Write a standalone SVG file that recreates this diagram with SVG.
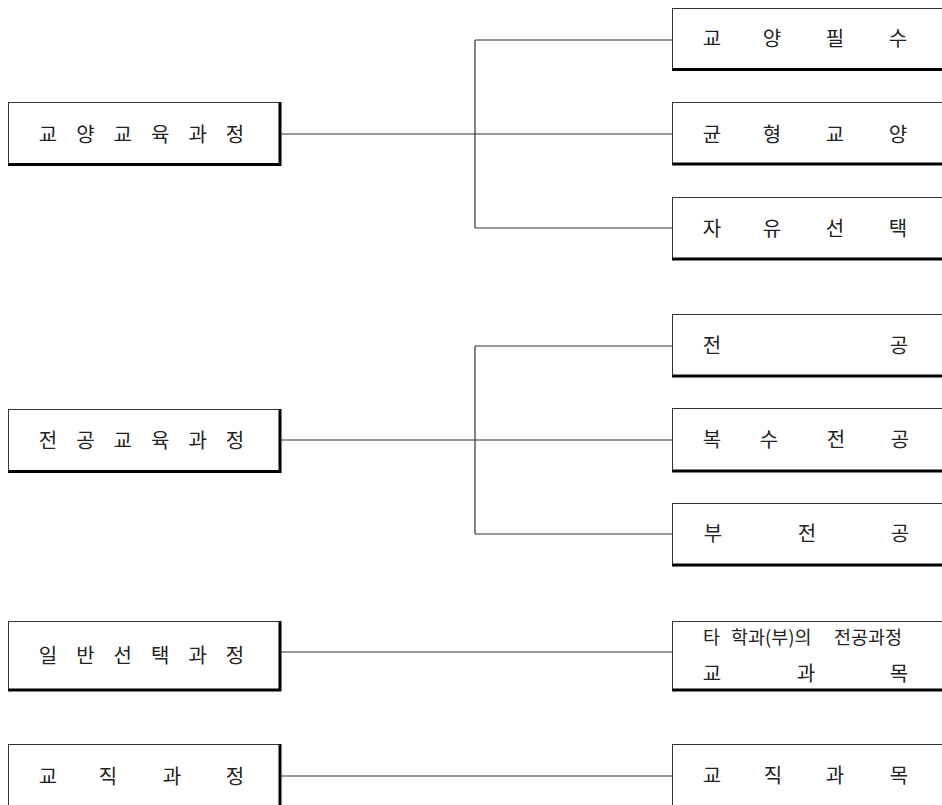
<svg xmlns="http://www.w3.org/2000/svg" width="942" height="805" viewBox="0 0 942 805">
<style>
.frame{fill:#fff;stroke:#333;stroke-width:1}
.shadow{fill:none;stroke:#000;stroke-width:3}
.conn{fill:none;stroke:#333;stroke-width:1.2}
.t{font-family:"Noto Sans CJK KR","Noto Sans CJK JP",sans-serif;font-size:20px;fill:#222;text-anchor:middle}
.s{font-family:"Noto Sans CJK KR","Noto Sans CJK JP",sans-serif;font-size:18.5px;fill:#222}
</style>
<rect width="942" height="805" fill="#fff"/>
<g id="connectors">
<path class="conn" d="M281 134H672M475 40V228M475 40H672M475 228H672"/>
<path class="conn" d="M281 440H672M475 346V534M475 346H672M475 534H672"/>
<path class="conn" d="M281 652H672"/>
<path class="conn" d="M281 776H672"/>
</g>
<g id="L1">
<rect class="frame" x="8.5" y="102.5" width="271" height="62"/>
<path class="shadow" d="M280 102V165.5M8 164.5H281.5"/>
<text class="t" y="141.5" x="48 66.7 85.4 104.1 122.8 141.5 160.2 178.9 197.6 216.3 235">교 양 교 육 과 정</text>
</g>
<g id="L2">
<rect class="frame" x="8.5" y="409.5" width="271" height="62"/>
<path class="shadow" d="M280 409V472.5M8 471.5H281.5"/>
<text class="t" y="447.5" x="48 66.7 85.4 104.1 122.8 141.5 160.2 178.9 197.6 216.3 235">전 공 교 육 과 정</text>
</g>
<g id="L3">
<rect class="frame" x="8.5" y="621.5" width="271" height="68"/>
<path class="shadow" d="M280 621V691.5M8 690H281.5"/>
<text class="t" y="662.5" x="48 66.7 85.4 104.1 122.8 141.5 160.2 178.9 197.6 216.3 235">일 반 선 택 과 정</text>
</g>
<g id="L4">
<rect class="frame" x="8.5" y="744.5" width="271" height="90"/>
<path class="shadow" d="M280 744V810"/>
<text class="t" y="783.5" x="48 78 108 140 172 203 235">교 직 과 정</text>
</g>
<g id="R1">
<rect class="frame" x="672.5" y="8.5" width="290" height="62"/>
<path class="shadow" d="M672 69.5H950"/>
<text class="t" y="45.5" x="712 742 772 803.5 835 866.5 898">교 양 필 수</text>
</g>
<g id="R2">
<rect class="frame" x="672.5" y="102.5" width="290" height="62"/>
<path class="shadow" d="M672 164H950"/>
<text class="t" y="141.5" x="712 742 772 803.5 835 866.5 898">균 형 교 양</text>
</g>
<g id="R3">
<rect class="frame" x="672.5" y="197.5" width="290" height="62"/>
<path class="shadow" d="M672 259H950"/>
<text class="t" y="235.5" x="712 742 772 803.5 835 866.5 898">자 유 선 택</text>
</g>
<g id="R4">
<rect class="frame" x="672.5" y="314.5" width="290" height="62"/>
<path class="shadow" d="M672 376H950"/>
<text class="t" y="352.5" x="712 805 899">전 공</text>
</g>
<g id="R5">
<rect class="frame" x="672.5" y="408.5" width="290" height="63"/>
<path class="shadow" d="M672 471H950"/>
<text class="t" y="446.5" x="712 740 769 802 836 868 900">복 수 전 공</text>
</g>
<g id="R6">
<rect class="frame" x="672.5" y="503.5" width="290" height="62"/>
<path class="shadow" d="M672 565H950"/>
<text class="t" y="540.5" x="713 760 807 853 900">부 전 공</text>
</g>
<g id="R7">
<rect class="frame" x="672.5" y="621.5" width="290" height="68"/>
<path class="shadow" d="M672 690H950"/>
<text class="s" y="644"><tspan x="703">타 </tspan><tspan x="731">학과(부)의 </tspan><tspan x="834">전공과정</tspan></text>
<text class="t" y="680.5" x="712 759 806 852 899">교 과 목</text>
</g>
<g id="R8">
<rect class="frame" x="672.5" y="744.5" width="290" height="90"/>
<text class="t" y="782.5" x="712 742 773 804 835 867 899">교 직 과 목</text>
</g>
</svg>
